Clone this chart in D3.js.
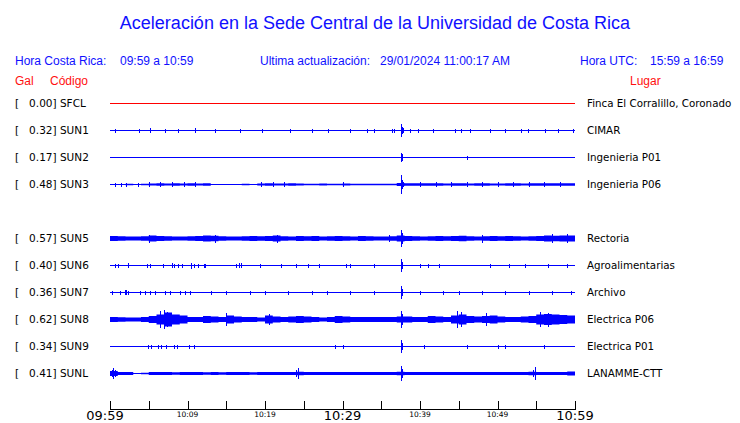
<!DOCTYPE html>
<html><head><meta charset="utf-8">
<script src="https://cdn.jsdelivr.net/npm/d3@7"></script>
<style>body{margin:0;background:#fff}svg{display:block}text{white-space:pre}</style>
</head><body>
<script>
// ---------- DATA ----------
const title = "Aceleración en la Sede Central de la Universidad de Costa Rica";
const horaCR = "09:59 a 10:59";
const actualizacion = "29/01/2024 11:00:17 AM";
const horaUTC = "15:59 a 16:59";
const rowSlots = ["SFCL","SUN1","SUN2","SUN3","SUN4","SUN5","SUN6","SUN7","SUN8","SUN9","SUNL"];
const codes  = ["SFCL","SUN1","SUN2","SUN3","SUN5","SUN6","SUN7","SUN8","SUN9","SUNL"];
const gals   = [0.00,0.32,0.17,0.48,0.57,0.40,0.36,0.62,0.34,0.41];
const places = ["Finca El Corralillo, Coronado","CIMAR","Ingenieria P01","Ingenieria P06","Rectoria","Agroalimentarias","Archivo","Electrica P06","Electrica P01","LANAMME-CTT"];
const colors = ["red","blue","blue","blue","blue","blue","blue","blue","blue","blue"];
const tickMinutes = [0,5,10,15,20,25,30,35,40,45,50,55,60];
const tickLabels  = ["09:59","","10:09","","10:19","","10:29","","10:39","","10:49","","10:59"];
const bigLabels   = ["09:59","10:29","10:59"];

// per-minute envelope (half amplitude) for each trace
const envSFCL = [];
const envSUN1 = [];
const envSUN2 = [];
const envSUN3 = [0.6,0.6,0.8,0.6,0.8,1,1.2,1,1.2,1,1.2,1,1.2,0.6,0.6,0.6,0.6,0.8,0.6,1,1.2,1,1,1.2,1,0.8,0.8,1,0.8,0.8,1,0.8,0.8,0.8,0.8,0.8,0.8,1.5,1.2,1.2,1.2,1.2,1.2,1,1.2,1.2,1,1.2,1.2,1,1,1.2,1.2,1,1.2,1.2,1.2,1.2,1.2,1.2];
const envSUN5 = [2.5,2.2,2,2,2.2,3,2.5,2.2,2,2,2.2,2.5,3,2.8,2.2,2,2,2.2,2.5,2.2,2.5,3,2.2,2,2.5,2.2,2.5,2,2.2,2.5,2.2,2,2.5,2.2,2,2,2.2,3,2.5,2.2,2,2.2,2.5,2.2,2.5,2.8,2.2,2,2.2,2.5,2.2,2.5,2.2,2,2.2,2.5,3,2.8,3,3];
const envSUN6 = [];
const envSUN7 = [];
const envSUN8 = [2.5,2.2,2,2,2.5,3.5,5,7,5,4,2.5,2.5,3.5,3,2.5,4,3,2.5,2.5,2,4,3,2.5,3,3.5,3,2.5,2,2.5,3.5,3,2.5,2.5,2.5,2.5,2.5,2.5,3,3,2.5,2.5,3.5,3,2.5,4,5,3.5,3,3.5,4,3,2.5,2.5,3,3.5,5,5.5,5,4.5,4];
const envSUN9 = [];
const envSUNL = [2.5,1.5,1.5,0.6,0.8,1.5,1.5,1.5,1.2,1.5,1.5,1.5,1.2,1.5,1.2,1.5,1.5,1.5,1.2,1.5,1.5,1.5,1.5,1.5,1.8,1.5,1.5,1.5,1.5,1.5,1.5,1.5,1.5,1.5,1.5,1.5,1.5,1.8,1.5,1.5,1.5,1.5,1.5,1.5,1.5,1.5,1.5,1.5,1.5,1.5,1.5,1.5,1.5,1.5,1.8,1.5,1.5,1.5,1.5,2];

// spikes [minute, half amplitude]
const spkSFCL = [];
const spkSUN1 = [[0.65,1.5],[3.7,1.5],[5.2,2],[7.1,1.5],[8.8,1.5],[11,2],[13.5,1.5],[16.8,1.5],[19.6,1.5],[23.2,1.5],[26.1,1.5],[28.1,1.5],[31,1.5],[33.2,1.5],[34.1,1.5],[36.4,1.5],[36.6,1.5],[37.5,4],[37.6,6],[37.7,3],[37.8,2],[38.7,1.5],[39.7,1.5],[41.7,1.5],[44.5,1.5],[45.3,1.5],[46.5,1.5],[49,1.5],[51,1.5],[53,1.5],[53.9,1.5],[56.1,1.5],[57.8,1.5],[59.7,1.5]];
const spkSUN2 = [[37.5,3],[37.6,4],[37.7,3],[46,1.5]];
const spkSUN3 = [[0.7,1.5],[1.4,1.5],[2,1.5],[3.6,1.5],[5,2],[6.5,2],[8,2],[9.5,2],[11,2],[19.5,2],[21,2],[22.5,2],[30,2],[37.5,5],[37.6,9],[37.7,4],[37.8,2],[40,2],[42,2],[44,2],[46,2],[48,2],[50,2],[52,2],[54,2],[56,2],[58,2]];
const spkSUN5 = [[5,3.5],[13.5,3.5],[21.5,3.5],[36,3],[37.5,5],[37.6,8],[37.7,5],[48,3.5],[57,4],[59,4]];
const spkSUN6 = [[0.6,1.5],[1,1.5],[2.3,2],[4.8,1.5],[5.1,1.5],[6.8,1.5],[8,2],[8.3,1.5],[8.8,1.5],[9.3,1.5],[10.4,2.5],[10.9,1.5],[11.4,1.5],[12.1,1.5],[12.3,1.5],[16.2,1.5],[16.6,2],[16.9,2],[19.4,1.5],[22,1.5],[24,1.5],[25.5,1.5],[27,1.5],[30.5,1.5],[31,1.5],[34,1.5],[37.5,4],[37.6,6],[37.7,3],[40,1.5],[41,1.5],[42.5,1.5],[49,1.5],[51.5,1.5],[53.5,1.5],[56.5,1.5],[59,1.5]];
const spkSUN7 = [[0.3,1.5],[1.3,1.5],[1.9,2],[2,2],[2.3,1.5],[3.9,1.5],[4.5,1.5],[5.2,1.5],[5.8,1.5],[7.1,1.5],[7.7,1.5],[9,1.5],[9.7,1.5],[10.3,1.5],[13,1.5],[15,1.5],[18,1.5],[20,1.5],[23,1.5],[26,1.5],[28,1.5],[31,1.5],[34,1.5],[37.5,4],[37.6,6],[37.7,3],[40,1.5],[43,1.5],[45,1.5],[48,1.5],[51,1.5],[54,1.5],[57,1.5],[59.5,1.5]];
const spkSUN8 = [[6.5,8],[7,9],[7.3,7],[15,6],[20.5,5],[37.5,5],[37.6,8],[37.7,5],[44.8,8],[45.3,7],[48.5,6],[55.5,7],[56.5,6.5]];
const spkSUN9 = [[4.9,1.5],[5.3,1.5],[6.2,1.5],[6.6,1.5],[7.2,1.5],[8.2,1.5],[8.6,1.5],[10.2,1.5],[10.9,1.5],[29,1.5],[30,1.5],[37.5,4],[37.6,6],[37.7,3],[40.5,1.5],[46,1.5],[50,1.5],[51,1.5],[56,1.5]];
const spkSUNL = [[0.2,3],[0.4,5],[0.7,3],[24,3],[24.2,5],[37.5,4],[37.6,7],[37.7,4],[54.6,3],[54.8,6]];

const envs = [envSFCL,envSUN1,envSUN2,envSUN3,envSUN5,envSUN6,envSUN7,envSUN8,envSUN9,envSUNL];
const spks = [spkSFCL,spkSUN1,spkSUN2,spkSUN3,spkSUN5,spkSUN6,spkSUN7,spkSUN8,spkSUN9,spkSUNL];

// ---------- DRAW ----------
const W = 740, H = 423;
const svg = d3.select("body").append("svg").attr("width", W).attr("height", H);
const x = d3.scaleLinear().domain([0, 60]).range([110, 575]);
const y = d3.scalePoint().domain(rowSlots).range([103, 373]);
const a = d3.scaleLinear().domain([0, 10]).range([0, 10]);
const px = v => Math.round(v) + 0.5;
const sans = "'Liberation Sans', Arial, sans-serif";
const dv = "'DejaVu Sans', sans-serif";

svg.append("text").attr("x", 375).attr("y", 29).attr("text-anchor", "middle")
  .attr("font-family", sans).attr("font-size", 18).attr("fill", "#1010ff").text(title);

const hdr = [[15,"Hora Costa Rica:"],[120,horaCR],[260,"Ultima actualización:"],[380,actualizacion],[580,"Hora UTC:"],[650,horaUTC]];
svg.selectAll(".hdr").data(hdr).join("text").attr("x", d => d[0]).attr("y", 65)
  .attr("font-family", sans).attr("font-size", 12).attr("fill", "#1010ff").text(d => d[1]);
const hdr2 = [[15,"Gal"],[50,"Código"],[630,"Lugar"]];
svg.selectAll(".hdr2").data(hdr2).join("text").attr("x", d => d[0]).attr("y", 85)
  .attr("font-family", sans).attr("font-size", 12).attr("fill", "#ff1010").text(d => d[1]);

codes.forEach((c, i) => {
  const cy = y(c);
  const g = svg.append("g");
  g.append("text").attr("x", 15).attr("y", cy + 4).attr("font-family", dv).attr("font-size", 10.5)
    .attr("fill", "#000").text("[   " + gals[i].toFixed(2) + "] " + c);
  g.append("text").attr("x", 587).attr("y", cy + 4).attr("font-family", dv).attr("font-size", 10.3)
    .attr("fill", "#000").text(places[i]);
  const col = colors[i];
  if (envs[i].length) {
    const pts = envs[i].map((v, k) => [k, v]).concat([[60, envs[i][envs[i].length - 1]]]);
    const area = d3.area().x(d => x(d[0])).y0(d => cy + 0.5 + a(d[1])).y1(d => cy + 0.5 - a(d[1])).curve(d3.curveStepAfter);
    g.append("path").attr("d", area(pts)).attr("fill", col);
  }
  g.append("line").attr("x1", x(0)).attr("x2", x(60)).attr("y1", cy + 0.5).attr("y2", cy + 0.5)
    .attr("stroke", col).attr("stroke-width", 1);
  g.selectAll(".spk").data(spks[i]).join("line")
    .attr("x1", d => px(x(d[0]))).attr("x2", d => px(x(d[0])))
    .attr("y1", d => Math.round(cy - a(d[1]))).attr("y2", d => Math.round(cy + 1 + a(d[1])))
    .attr("stroke", col).attr("stroke-width", 1);
});

// axis
const ax = svg.append("g").attr("transform", "translate(0,409)");
ax.append("line").attr("x1", x(0)).attr("x2", x(60) + 1).attr("y1", 0.5).attr("y2", 0.5)
  .attr("stroke", "#000").attr("stroke-width", 1);
ax.selectAll(".tk").data(tickMinutes).join("line").attr("x1", d => px(x(d))).attr("x2", d => px(x(d)))
  .attr("y1", 0).attr("y2", -8).attr("stroke", "#000").attr("stroke-width", 1);
ax.selectAll(".tl").data(tickMinutes.map((m, k) => [m, tickLabels[k]]).filter(d => d[1]))
  .join("text").attr("x", d => x(d[0]) + (d[0] === 0 ? -5 : 0))
  .attr("y", d => bigLabels.includes(d[1]) ? 11 : 8)
  .attr("text-anchor", "middle").attr("font-family", dv)
  .attr("font-size", d => bigLabels.includes(d[1]) ? 13 : 7.5).attr("fill", "#000")
  .text(d => d[1]);
</script>
</body></html>
